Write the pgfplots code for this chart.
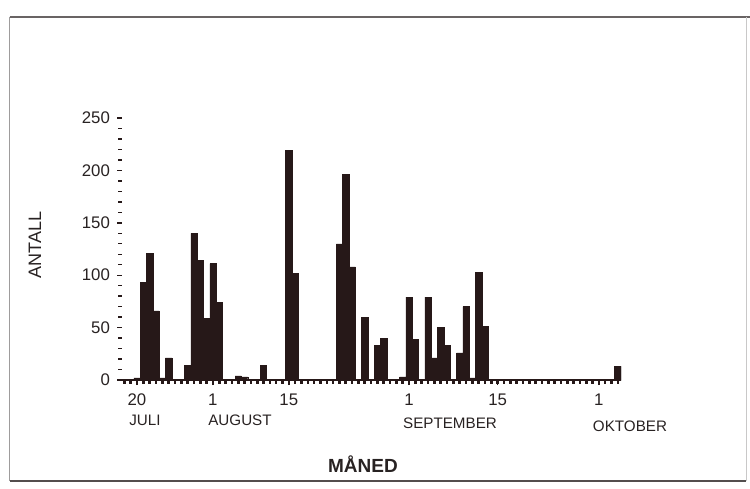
\documentclass[border=0pt]{standalone}
\usepackage{fontspec}
\setmainfont{Liberation Sans}
\usepackage{pgfplots}
\pgfplotsset{compat=1.18}
\definecolor{ink}{RGB}{38,24,24}
\definecolor{txt}{RGB}{40,34,34}

% dag 0 = 20. juli, antall per dag
\pgfplotstableread{
dag antall
0 2
1 93
2 121
3 66
4 2
5 21
8 14
9 140
10 114
11 59
12 111
13 74
16 4
17 3
20 14
24 219
25 102
32 130
33 196
34 108
36 60
38 33
39 40
42 3
43 79
44 39
46 79
47 21
48 50
49 33
51 26
52 70
53 2
54 103
55 51
76 13
}\fangst

\begin{document}
\begin{tikzpicture}
\useasboundingbox (0,0) rectangle (375pt,244pt);
% ramme
\draw[txt!70, line width=0.6pt] (4.75pt,235.5pt) -- (375pt,235.5pt);
\draw[txt!45, line width=0.4pt] (4.75pt,235.5pt) -- (4.75pt,3.5pt);
\draw[txt!80, line width=0.7pt] (4.75pt,3.5pt) -- (373pt,3.5pt);
\draw[txt!25, line width=0.4pt] (373pt,235.5pt) -- (373pt,3.5pt);

\begin{axis}[
    at={(61pt,54pt)}, anchor=south west,
    scale only axis,
    width=249.5pt, height=131pt,
    xmin=-2.37, xmax=76.5,
    ymin=0, ymax=250,
    axis x line*=bottom,
    axis y line*=left,
    x axis line style={ink, line width=1.1pt, -},
    y axis line style={draw=none, -},
    xtick={0,12,24,43,57,73},
    xticklabels={20,1,15,1,15,1},
    minor xtick={-2,...,76},
    ytick={0,50,...,250},
    minor ytick={0,10,...,250},
    tick align=outside,
    major tick length=2.5pt,
    minor tick length=1.8pt,
    tick style={ink, line width=0.7pt},
    minor x tick style={line width=1.3pt},
    ticklabel style={font=\fontsize{8.4}{9}\selectfont, text=txt},
    /pgf/number format/assume math mode=true,
    xticklabel style={yshift=-1pt},
    ybar, bar width=1,
]
\addplot[fill=ink, draw=ink, line width=0.2pt] table[x=dag, y=antall] {\fangst};
\end{axis}

\node[rotate=90, text=txt, font=\fontsize{9}{10}\selectfont] at (17.5pt,121.5pt) {ANTALL};
\node[text=txt, font=\fontsize{7.6}{9}\selectfont] at (72.5pt,34pt) {JULI};
\node[text=txt, font=\fontsize{7.6}{9}\selectfont] at (120pt,34pt) {AUGUST};
\node[text=txt, font=\fontsize{7.6}{9}\selectfont] at (225pt,32.5pt) {SEPTEMBER};
\node[text=txt, font=\fontsize{7.6}{9}\selectfont] at (315pt,31pt) {OKTOBER};
\node[text=txt, font=\bfseries\fontsize{9.5}{11}\selectfont] at (181.5pt,12pt) {MÅNED};
\end{tikzpicture}
\end{document}
